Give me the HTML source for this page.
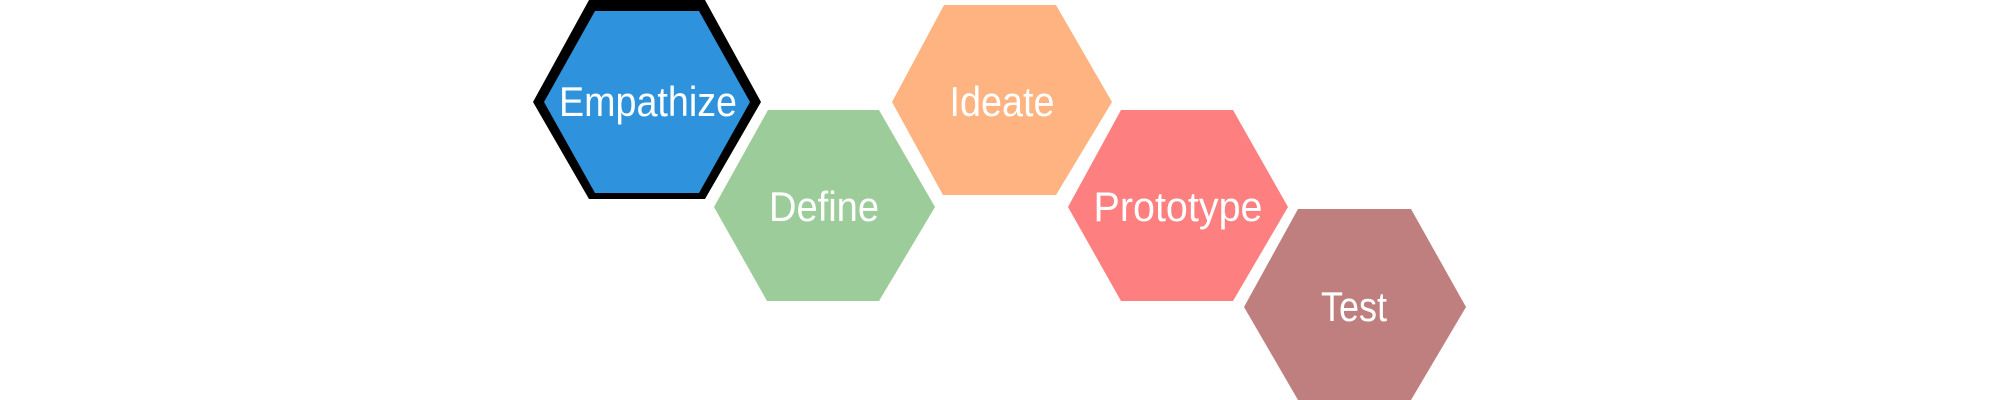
<!DOCTYPE html>
<html><head><meta charset="utf-8"><style>
html,body{margin:0;padding:0;background:#fff;width:2000px;height:400px;overflow:hidden}
svg{display:block}
text{font-family:"Liberation Sans",sans-serif;font-size:42px;fill:#fff;text-anchor:middle}
</style></head><body>
<svg width="2000" height="400" viewBox="0 0 2000 400">
<polygon points="533,102 589,0 705,0 761,102 705,199 589,199" fill="#000"/>
<polygon points="544,102 595,11 699,11 750,102 699,193 595,193" fill="#2e93dc"/>
<polygon points="714,207 768,110 879,110 935,207 879,301 767,301" fill="#9ccc99"/>
<polygon points="892,102 944,5 1056,5 1112,102 1056,195 943,195" fill="#ffb380"/>
<polygon points="1068,207 1121,110 1233,110 1288,207 1233,301 1121,301" fill="#fe7f7f"/>
<polygon points="1244,307 1298,209 1411,209 1466,307 1411,400 1298,400" fill="#be7f7e"/>
<text x="648" y="116" textLength="178" lengthAdjust="spacingAndGlyphs">Empathize</text>
<text x="824" y="221" textLength="110" lengthAdjust="spacingAndGlyphs">Define</text>
<text x="1002" y="116" textLength="105" lengthAdjust="spacingAndGlyphs">Ideate</text>
<text x="1178" y="221" textLength="169" lengthAdjust="spacingAndGlyphs">Prototype</text>
<text x="1354" y="321" textLength="66" lengthAdjust="spacingAndGlyphs">Test</text>
</svg>
</body></html>
